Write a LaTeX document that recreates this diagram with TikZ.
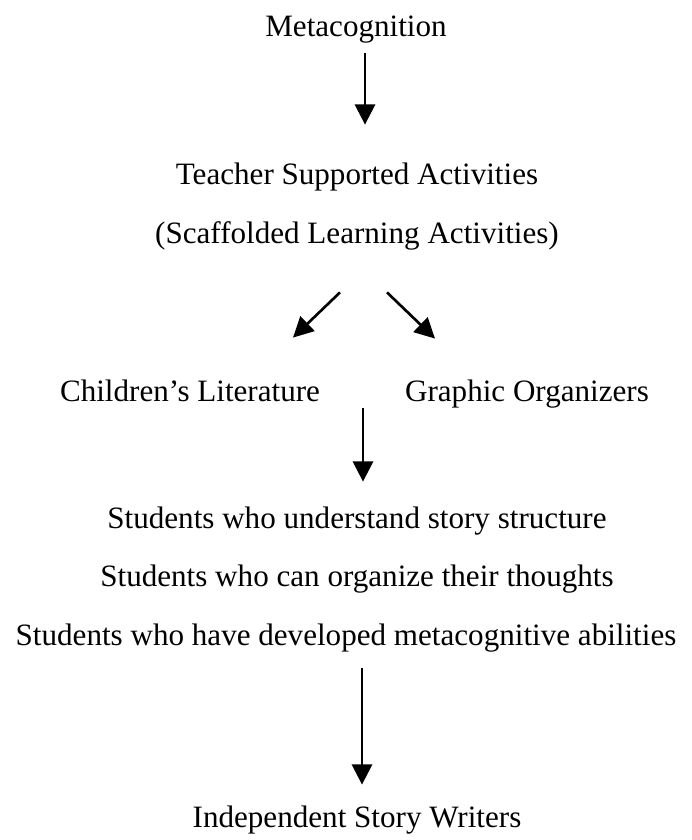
\documentclass[tikz,border=0pt]{standalone}
\usepackage{fontspec}
\setmainfont{Liberation Serif}
\usepackage{tikz}
\usetikzlibrary{arrows.meta}
\usetikzlibrary{calc}
\usetikzlibrary{positioning}

\tikzset{
  lbl/.style={font=\fontsize{17.7}{21}\selectfont, inner sep=0pt, anchor=base,
    text height=12pt, text depth=4pt},
  arr/.style={line width=1.5pt, -{Triangle[length=11.5pt,width=11.5pt]}}
}

\begin{document}
\begin{tikzpicture}[x=0.02cm,y=-0.02cm]
  \useasboundingbox (0,0) rectangle (691,840);

  %% top part
  \node[lbl] (meta) at (356,36) {Metacognition};
  \node[lbl] (teach) at (357,184) {Teacher Supported Activities};
  \node[lbl] (scaff) at (357,243) {(Scaffolded Learning Activities)};

  % two branches
  \node[lbl] (litr) at (190,401) {Children's Literature};
  \node[lbl] (graph) at (527,401) {Graphic Organizers};

  %% students
  \node[lbl] (und) at (357,528) {Students who understand story structure};
  \node[lbl] (org) at (357,586) {Students who can organize their thoughts};
  \node[lbl] (devel) at (346,645) {Students who have developed metacognitive abilities};

  \node[lbl] (indep) at (357,827) {Independent Story Writers};

  %% arrows
  \draw[arr] ($(meta.south)+(9,10)$) -- ($(teach.north)+(8,-38)$);
  \draw[arr] ($(scaff.south)+(-17,42)$) -- ($(litr.north)+(103,-42)$);
  \draw[arr] ($(scaff.south)+(30,42)$) -- ($(graph.north)+(-92,-41)$);
  \draw[arr] ($(und.north)+(6,-99)$) -- ($(und.north)+(6,-25)$);
  \draw[arr] ($(devel.south)+(16,16)$) -- ($(indep.north)+(5,-21)$);
\end{tikzpicture}
\end{document}
